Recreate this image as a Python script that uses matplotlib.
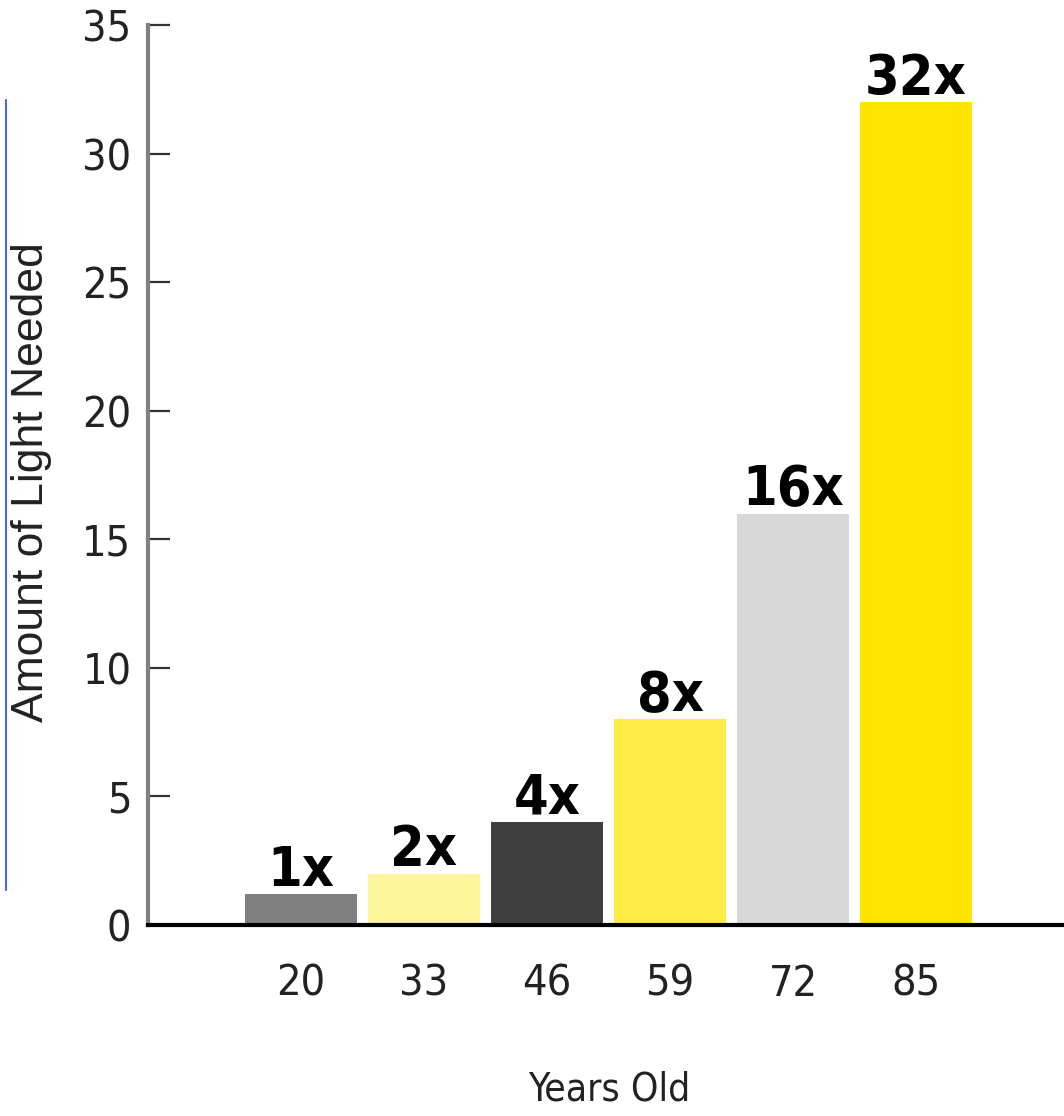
import matplotlib
matplotlib.use("Agg")
import matplotlib.pyplot as plt
from matplotlib.lines import Line2D

# data
ages = ["20", "33", "46", "59", "72", "85"]
light = [1.2, 2, 4, 8, 16, 32]
labels = ["1x", "2x", "4x", "8x", "16x", "32x"]
colors = ["#808080", "#fff59d", "#3f3f3f", "#ffeb45", "#d8d8d8", "#ffe500"]
yticks = [0, 5, 10, 15, 20, 25, 30, 35]

narrow = ["DejaVu Sans"]

fig = plt.figure(figsize=(10.64, 11.16), dpi=100)
ax = fig.add_axes([148 / 1064, 1 - 925 / 1116, 916 / 1064, 900 / 1116])

x = list(range(len(ages)))
bars = ax.bar(x, light, width=0.91, color=colors, zorder=2)

for b, lab in zip(bars, labels):
    ax.annotate(lab, (b.get_x() + b.get_width() / 2, b.get_height()),
                xytext=(0, 6), textcoords="offset points",
                ha="center", va="baseline", fontsize=40, fontweight="bold",
                family=narrow, fontstretch="condensed", color="black")

ax.set_xlim(-1.244, 6.203)
ax.set_ylim(0, 35)

ax.set_xticks(x)
ax.set_xticklabels(ages, family=narrow, fontstretch="condensed", fontsize=31, color="#222222")
ax.tick_params(axis="x", length=0, pad=27)

ax.set_yticks(yticks)
ax.set_yticklabels([str(v) for v in yticks], family=narrow, fontstretch="condensed",
                   fontsize=31, color="#222222")
ax.tick_params(axis="y", direction="in", length=16, width=1.6, color="#333333", pad=12)

for s in ["top", "right"]:
    ax.spines[s].set_visible(False)
ax.spines["left"].set_color("#808080")
ax.spines["left"].set_linewidth(3)
ax.spines["bottom"].set_color("black")
ax.spines["bottom"].set_linewidth(3)
ax.spines["bottom"].set_zorder(3)

ax.set_ylabel("Amount of Light Needed", family=["Liberation Sans", "DejaVu Sans"],
              fontsize=32, color="#222222")
ax.yaxis.set_label_coords(-0.105, 0.492)
ax.set_xlabel("Years Old", family=narrow, fontstretch="condensed", fontsize=28, color="#222222")
ax.xaxis.set_label_coords(0.503, -0.162)

# thin blue rule at the far left edge
fig.add_artist(Line2D([6 / 1064, 6 / 1064], [1 - 100 / 1116, 1 - 890 / 1116],
                      color="#2046ff", lw=1.2))

fig.savefig("out.png", dpi=100)
